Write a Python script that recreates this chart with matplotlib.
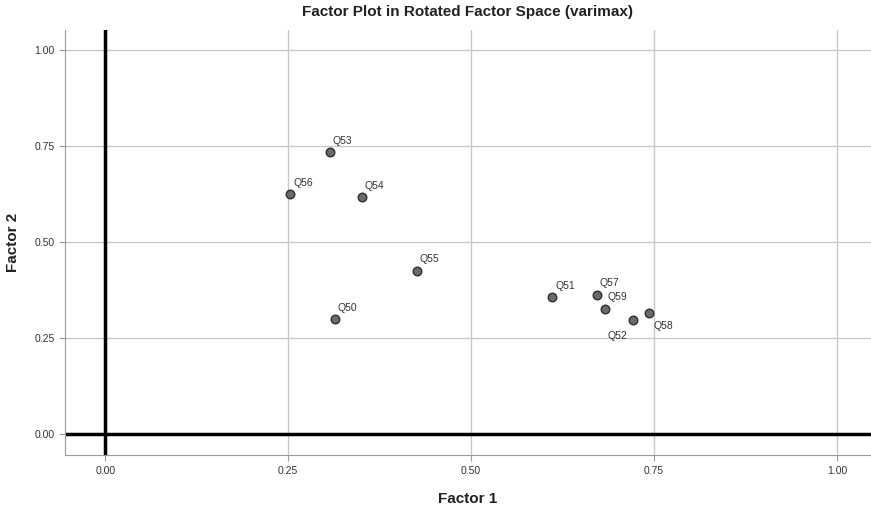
import matplotlib
matplotlib.use("Agg")
from matplotlib import pyplot as plt

plt.rcParams['font.family'] = ['Liberation Sans', 'DejaVu Sans']

# rotated factor loadings
items = ["Q50", "Q51", "Q52", "Q53", "Q54", "Q55", "Q56", "Q57", "Q58", "Q59"]
factor1 = [0.314, 0.611, 0.721, 0.307, 0.351, 0.426, 0.253, 0.672, 0.743, 0.683]
factor2 = [0.299, 0.357, 0.297, 0.734, 0.617, 0.425, 0.625, 0.363, 0.314, 0.326]
ticks = [0.0, 0.25, 0.5, 0.75, 1.0]
tick_labels = ["0.00", "0.25", "0.50", "0.75", "1.00"]

fig = plt.figure(figsize=(8.71, 5.08), dpi=100)
ax = fig.add_axes([0.0746, 0.104, 0.925, 0.837])

ax.set_xlim(-0.055, 1.046)
ax.set_ylim(-0.055, 1.052)
ax.set_xticks(ticks)
ax.set_xticklabels(tick_labels)
ax.set_yticks(ticks)
ax.set_yticklabels(tick_labels)
ax.grid(True, color="#c8c8c8", linewidth=1.0)
ax.set_axisbelow(True)

ax.axvline(0, color="black", linewidth=2.5, zorder=2)
ax.axhline(0, color="black", linewidth=2.5, zorder=2)

ax.scatter(factor1, factor2, s=38, color="#6b6b6b", edgecolor="#2e2e2e", linewidth=1.0, zorder=3)

for name, x, y in zip(items, factor1, factor2):
    if name == "Q52":
        ax.annotate(name, (x, y), xytext=(-18, -14), textcoords="offset points", fontsize=7.5, color="#333333")
    elif name == "Q58":
        ax.annotate(name, (x, y), xytext=(3, -11), textcoords="offset points", fontsize=7.5, color="#333333")
    else:
        ax.annotate(name, (x, y), xytext=(2, 6), textcoords="offset points", fontsize=7.5, color="#333333")

for s in ["top", "right"]:
    ax.spines[s].set_visible(False)
for s in ["left", "bottom"]:
    ax.spines[s].set_color("#9a9a9a")
ax.tick_params(labelsize=7.5, colors="#333333", length=4, color="#9a9a9a")

ax.set_title("Factor Plot in Rotated Factor Space (varimax)", fontsize=11, fontweight="bold", color="#222222", pad=10)
ax.set_xlabel("Factor 1", fontsize=11, fontweight="bold", color="#222222", labelpad=12)
ax.set_ylabel("Factor 2", fontsize=11, fontweight="bold", color="#222222", labelpad=10)

fig.savefig("out.png", dpi=100)
